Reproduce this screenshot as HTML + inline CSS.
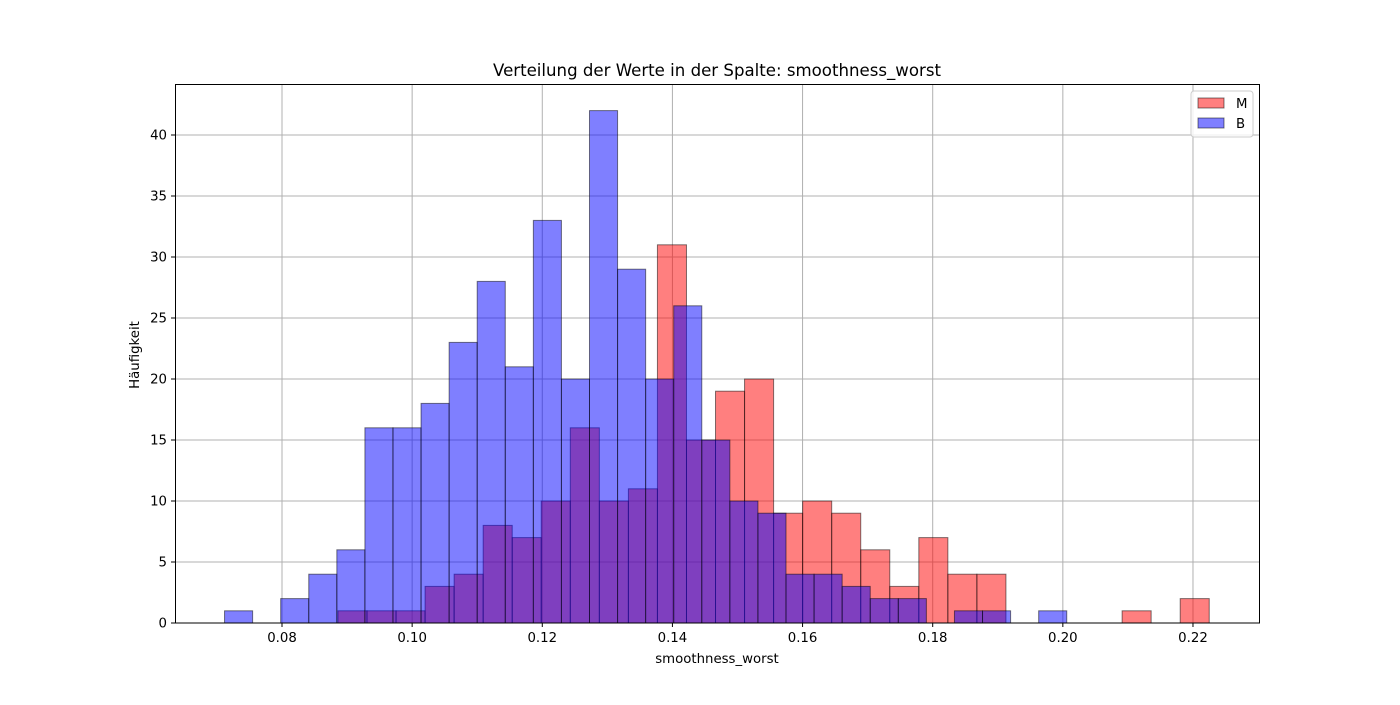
<!DOCTYPE html>
<html><head><meta charset="utf-8"><style>
body{margin:0;background:#fff;}
svg text{font-family:"DejaVu Sans","Liberation Sans",sans-serif;fill:#000;}
</style></head><body>
<svg id="chart" width="1400" height="700" xmlns="http://www.w3.org/2000/svg">
<rect width="1400" height="700" fill="#fff"/>
<g id="grid"></g>
<g id="bars"></g>
<rect x="175.5" y="84.5" width="1084" height="538.5" fill="none" stroke="#000" stroke-width="1"/>
<g id="axes"></g>
<text x="717" y="76" font-size="16.6" text-anchor="middle">Verteilung der Werte in der Spalte: smoothness_worst</text>
<text x="717" y="663" font-size="13.3" text-anchor="middle">smoothness_worst</text>
<text x="139" y="355" font-size="13.3" text-anchor="middle" transform="rotate(-90 139 355)">Häufigkeit</text>
<g>
<rect x="1191" y="91" width="62" height="46" rx="3" fill="#fff" fill-opacity="0.8" stroke="#ccc"/>
<g><rect x="1198" y="98" width="26" height="10" fill="rgba(255,0,0,0.5)" stroke="rgba(0,0,0,0.5)"/><text x="1236" y="108" font-size="13.3">M</text></g>
<g><rect x="1198" y="118" width="26" height="10" fill="rgba(0,0,255,0.5)" stroke="rgba(0,0,0,0.5)"/><text x="1236" y="128" font-size="13.3">B</text></g>
</g>
</svg>
<script>
const mStart = 0.0886, mEnd = 0.2225;
const mCounts = [1,1,1,3,4,8,7,10,16,10,11,31,15,19,20,9,10,9,6,3,7,4,4,0,0,0,0,1,0,2];
const bStart = 0.07117, bEnd = 0.2006;
const bCounts = [1,0,2,4,6,16,16,18,23,28,21,33,20,42,29,20,26,15,10,9,4,4,3,2,2,0,1,1,0,1];
const xTicks = [0.08,0.10,0.12,0.14,0.16,0.18,0.20,0.22];
const yTicks = [0,5,10,15,20,25,30,35,40];
const X = v => 282 + (v - 0.08) * 6507;
const Y = c => 623 - c * 12.2;
const NS = "http://www.w3.org/2000/svg";
function mk(tag, attrs, parent){const e=document.createElementNS(NS,tag);for(const k in attrs)e.setAttribute(k,attrs[k]);parent.appendChild(e);return e;}
const grid=document.getElementById('grid'), bars=document.getElementById('bars'), axes=document.getElementById('axes');
xTicks.forEach(t=>{
  const x=X(t);
  const g=mk('line',{x1:x,x2:x,y1:84,y2:623,stroke:'#b0b0b0','stroke-width':1},grid);
  
  
  mk('line',{x1:x,x2:x,y1:623,y2:627,stroke:'#000'},axes);
  const tx=mk('text',{x:x,y:642,'font-size':13.3,'text-anchor':'middle'},axes);
  tx.textContent=t.toFixed(2);
  
  
});
yTicks.forEach(t=>{
  const y=Y(t);
  const g=mk('line',{x1:175,x2:1260,y1:y,y2:y,stroke:'#b0b0b0','stroke-width':1},grid);
  
  
  mk('line',{x1:171,x2:175,y1:y,y2:y,stroke:'#000'},axes);
  const tx=mk('text',{x:167,y:y+4.5,'font-size':13.3,'text-anchor':'end'},axes);
  tx.textContent=t;
  
  
});
function draw(counts,start,end,fill,name){
  const w=(end-start)/counts.length;
  counts.forEach((c,i)=>{
    if(c<=0)return;
    const x0=X(start+i*w), x1=X(start+(i+1)*w);
    const r=mk('rect',{x:x0,y:Y(c),width:x1-x0,height:Y(0)-Y(c),fill:fill,stroke:'rgba(0,0,0,0.5)','stroke-width':1},bars);
    
    
  });
}
draw(mCounts,mStart,mEnd,'rgba(255,0,0,0.5)','bar-m');
draw(bCounts,bStart,bEnd,'rgba(0,0,255,0.5)','bar-b');
</script>
</body></html>
